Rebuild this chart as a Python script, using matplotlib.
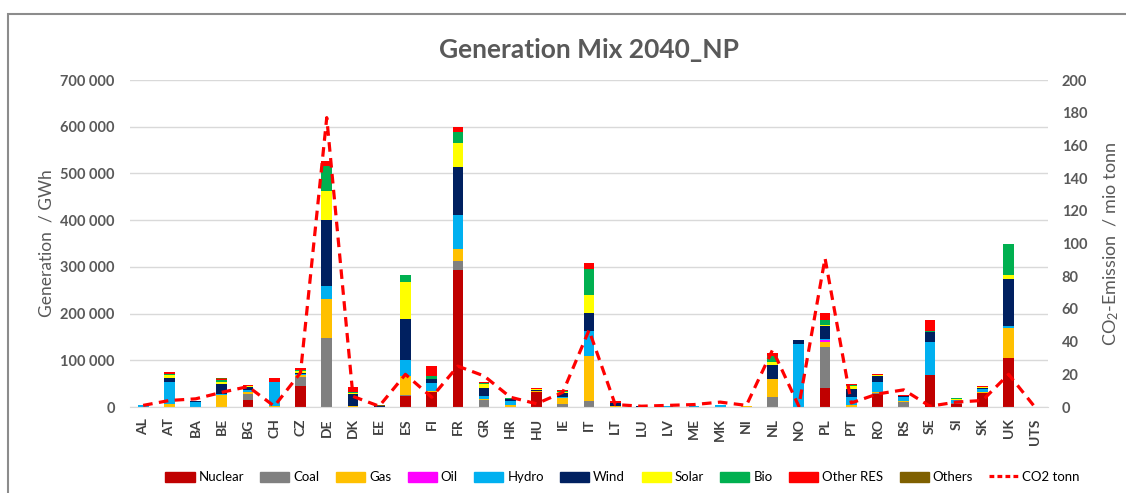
import numpy as np
import matplotlib.pyplot as plt
from matplotlib.ticker import FuncFormatter
from matplotlib.patches import Rectangle, Patch
from matplotlib.lines import Line2D

plt.rcParams['font.family'] = ['Lato', 'DejaVu Sans']
plt.rcParams['mathtext.default'] = 'regular'

countries = ['AL', 'AT', 'BA', 'BE', 'BG', 'CH', 'CZ', 'DE', 'DK', 'EE', 'ES', 'FI', 'FR', 'GR',
             'HR', 'HU', 'IE', 'IT', 'LT', 'LU', 'LV', 'ME', 'MK', 'NI', 'NL', 'NO', 'PL', 'PT',
             'RO', 'RS', 'SE', 'SI', 'SK', 'UK', 'UTS']

# GWh per technology, same order as countries
nuclear = [0, 0, 0, 0, 14000, 0, 46000, 0, 0, 0, 22700, 33000, 294200, 0,
           0, 32000, 0, 0, 0, 0, 0, 0, 0, 0, 0, 0, 41200, 0,
           27000, 0, 67500, 5500, 30500, 104500, 0]
coal = [0, 0, 0, 0, 13000, 0, 17800, 148600, 0, 0, 3500, 0, 18500, 15000,
        1000, 0, 5700, 12800, 0, 0, 0, 500, 1000, 0, 22000, 0, 88000, 0,
        3000, 10000, 0, 3000, 0, 0, 0]
gas = [0, 7000, 0, 25000, 5000, 3000, 5000, 81700, 3000, 0, 40500, 2000, 26300, 3000,
       3000, 2000, 14200, 96000, 3000, 0, 0, 0, 0, 1500, 38400, 0, 10700, 5000,
       2000, 3500, 1000, 0, 2000, 64700, 0]
oil = [0, 0, 0, 0, 0, 0, 0, 0, 0, 0, 0, 0, 0, 0,
       0, 0, 0, 0, 0, 0, 0, 0, 0, 0, 0, 0, 3000, 0,
       0, 0, 0, 0, 0, 0, 0]
hydro = [4500, 46000, 11000, 2000, 5000, 50000, 2000, 28400, 0, 0, 34000, 17000, 71000, 6000,
         8000, 0, 1000, 53300, 0, 1000, 2000, 2500, 4000, 0, 0, 135800, 2000, 17000,
         22000, 8000, 71000, 7000, 6000, 5000, 0]
wind = [0, 10000, 2000, 22000, 5000, 0, 3000, 140700, 24000, 3000, 86700, 8000, 103000, 17000,
        5000, 2500, 9000, 39000, 5000, 1000, 1000, 0, 0, 1500, 30500, 7000, 28400, 16000,
        12000, 2000, 21300, 0, 3000, 99500, 0]
solar = [0, 5000, 500, 5000, 3000, 0, 3000, 64000, 2000, 0, 80300, 1000, 51200, 9000,
         1000, 2500, 1500, 39000, 0, 500, 0, 0, 0, 0, 5000, 0, 2000, 7000,
         2500, 1000, 0, 2000, 2000, 8500, 0]
bio = [0, 2000, 0, 3000, 1000, 0, 3000, 53300, 3000, 0, 14200, 6000, 24900, 1500,
       500, 0, 3000, 54700, 0, 0, 0, 0, 0, 0, 12800, 0, 10700, 2000,
       0, 0, 2000, 1000, 0, 66100, 0]
other_res = [0, 4000, 0, 3000, 1000, 9000, 4000, 10700, 10000, 0, 0, 20000, 10700, 2000,
             0, 1500, 1500, 12800, 4000, 0, 0, 0, 0, 0, 7000, 0, 14200, 3000,
             2000, 500, 23000, 0, 1500, 0, 0]
others = [0, 500, 0, 1500, 0, 0, 0, 0, 0, 500, 0, 0, 0, 0,
          0, 0, 0, 0, 0, 0, 0, 0, 0, 0, 0, 0, 0, 0,
          0, 0, 0, 0, 0, 0, 0]

# mio tonn
co2 = [1, 4, 5, 9, 12.5, 0.5, 21, 177, 6.5, 0.5, 20, 6, 25, 19,
       6, 2, 9, 47, 1.5, 0.5, 1, 1.5, 3, 1, 35, 0.5, 91, 2.5,
       8, 10.5, 0.5, 3, 4, 20, 0]

series = [('Nuclear', nuclear, '#C00000'), ('Coal', coal, '#808080'), ('Gas', gas, '#FFC000'),
          ('Oil', oil, '#FF00FF'), ('Hydro', hydro, '#00B0F0'), ('Wind', wind, '#002060'),
          ('Solar', solar, '#FFFF00'), ('Bio', bio, '#00B050'), ('Other RES', other_res, '#FF0000'),
          ('Others', others, '#7F6000')]

txt = '#595959'
fig = plt.figure(figsize=(11.26, 4.93), dpi=100)
ax1 = fig.add_axes([0.1155, 0.1744, 0.8152, 0.6633])
ax2 = ax1.twinx()

x = np.arange(len(countries))
bottom = np.zeros(len(countries))
handles = []
for name, vals, col in series:
    vals = np.array(vals, dtype=float)
    ax1.bar(x, vals, 0.41, bottom=bottom, color=col, zorder=2)
    bottom += vals
    handles.append(Patch(color=col, label=name))

ax2.plot(x, co2, color='#FF0000', linestyle=(0, (3, 2)), linewidth=2.3, zorder=3)
handles.append(Line2D([], [], color='#FF0000', linestyle=(0, (1.5, 1)), linewidth=2.3, label='CO2 tonn'))

ax1.set_xlim(-0.5, len(countries) - 0.5)
ax1.set_ylim(0, 700000)
ax1.set_yticks(np.arange(0, 700001, 100000))
ax1.yaxis.set_major_formatter(FuncFormatter(lambda v, _: f"{int(v):,}".replace(",", " ")))
ax2.set_ylim(0, 200)
ax2.set_yticks(np.arange(0, 201, 20))

ax1.set_xticks(x)
ax1.set_xticklabels(countries, rotation=90)
ax1.grid(axis='y', color='#d9d9d9', linewidth=1)
ax1.set_axisbelow(True)
for ax in (ax1, ax2):
    for s in ax.spines.values():
        s.set_visible(False)
    ax.tick_params(length=0, labelcolor=txt, labelsize=10.5)
ax1.spines['bottom'].set_visible(True)
ax1.spines['bottom'].set_color('#d9d9d9')
ax1.tick_params(axis='y', pad=11)
ax1.tick_params(axis='x', pad=8, labelsize=10, labelcolor='#404040')
ax2.tick_params(axis='y', pad=10)
for lab in ax1.get_yticklabels() + ax1.get_xticklabels() + ax2.get_yticklabels():
    lab.set_fontweight('bold')

ax1.set_ylabel('Generation  / GWh', fontsize=12.5, color=txt, labelpad=4)
ax2.set_ylabel('CO$_2$-Emission  / mio tonn', fontsize=13, color=txt, labelpad=10)
ax1.set_title('Generation Mix 2040_NP', fontsize=19, fontweight='bold', color=txt, pad=16)

fig.legend(handles=handles, loc='center', bbox_to_anchor=(0.553, 0.032), ncol=11, frameon=False,
           fontsize=9.5, handlelength=2.2, handleheight=0.8, columnspacing=1.25, handletextpad=0.3)

fig.patches.append(Rectangle((8 / 1126, -0.1), 1.2, 1.1 - 14 / 493, transform=fig.transFigure,
                             fill=False, edgecolor='#8c8c8c', linewidth=1.5))

fig.savefig('out.png', dpi=100)
